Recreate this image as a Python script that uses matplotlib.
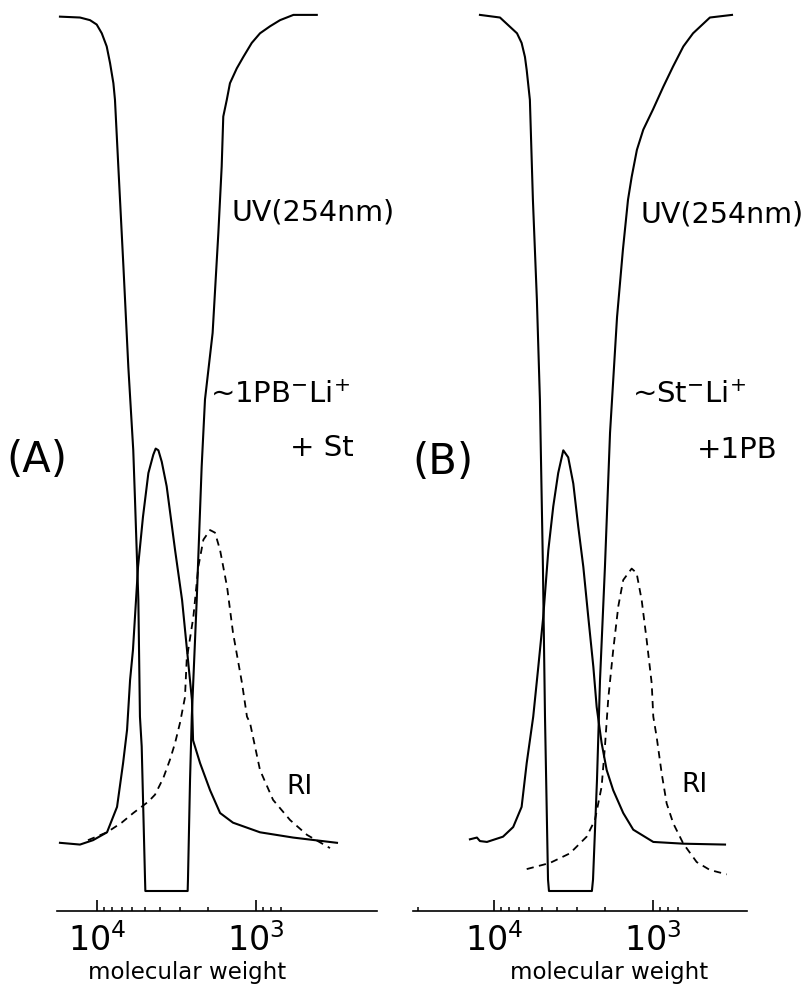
import numpy as np
import matplotlib
matplotlib.use("Agg")
import matplotlib.pyplot as plt
from matplotlib.ticker import FixedLocator, NullFormatter, LogFormatterSciNotation

plt.rcParams['font.family'] = ['DejaVu Sans']
plt.rcParams['mathtext.fontset'] = 'dejavusans'

# ---- data: log10(molecular weight) vs detector signal (0 = off-scale floor, 100 = top) ----
# Panel A: ~1PB-Li+ + St
uv_a_logm = [4.233, 4.107, 4.044, 4.002, 3.970, 3.939, 3.918, 3.897, 3.887, 3.866,
             3.834, 3.803, 3.772, 3.761, 3.740, 3.730, 3.719, 3.698, 3.696, 3.430,
             3.428, 3.415, 3.404, 3.373, 3.342, 3.321, 3.273, 3.237, 3.216, 3.206,
             3.184, 3.164, 3.121, 3.080, 3.027, 2.975, 2.912, 2.849, 2.765, 2.618]
uv_a_sig = [99.8, 99.7, 99.4, 98.9, 97.9, 96.4, 94.5, 92.2, 90.3, 82.7,
            71.3, 59.8, 50.3, 44.6, 33.2, 19.9, 16.5, 1.3, 0.0, 0.0,
            1.3, 12.7, 19.9, 33.2, 48.4, 56.1, 63.7, 75.1, 82.7, 88.4,
            90.3, 92.2, 93.9, 95.2, 96.8, 97.9, 98.7, 99.4, 100.0, 100.0]

peak_a_logm = [4.233, 4.107, 4.025, 3.937, 3.874, 3.836, 3.811, 3.792, 3.774, 3.742,
               3.711, 3.677, 3.646, 3.631, 3.614, 3.593, 3.562, 3.509, 3.465, 3.434,
               3.403, 3.396, 3.352, 3.289, 3.226, 3.145, 2.975, 2.767, 2.491]
peak_a_sig = [5.5, 5.3, 5.8, 6.7, 9.6, 14.6, 18.4, 24.1, 27.5, 37.0,
              42.7, 47.7, 49.8, 50.5, 50.3, 49.0, 46.2, 38.9, 33.2, 27.5,
              21.8, 17.2, 14.6, 11.5, 8.9, 7.8, 6.7, 6.1, 5.5]

ri_a_logm = [4.057, 3.937, 3.845, 3.772, 3.677, 3.635, 3.583, 3.541, 3.509, 3.478,
             3.447, 3.436, 3.394, 3.363, 3.331, 3.289, 3.258, 3.226, 3.182, 3.145,
             3.088, 3.057, 3.038, 2.975, 2.893, 2.786, 2.679, 2.535]
ri_a_sig = [5.8, 6.7, 7.8, 8.9, 10.2, 11.0, 12.9, 15.0, 16.9, 19.2,
            22.1, 26.4, 31.3, 37.0, 40.1, 41.2, 40.9, 38.9, 34.7, 29.5,
            23.7, 19.9, 19.2, 13.8, 10.4, 8.1, 6.4, 4.9]

# Panel B: ~St-Li+ + 1PB
uv_b_logm = [4.088, 3.962, 3.855, 3.826, 3.805, 3.794, 3.774, 3.755, 3.730, 3.711,
             3.692, 3.679, 3.660, 3.654, 3.384, 3.377, 3.352, 3.333, 3.302, 3.270,
             3.226, 3.189, 3.157, 3.134, 3.101, 3.061, 3.000, 2.935, 2.874, 2.809,
             2.748, 2.642, 2.503]
uv_b_sig = [100.0, 99.7, 97.9, 96.8, 95.2, 93.7, 90.3, 78.9, 67.5, 56.1,
            37.0, 19.9, 1.3, 0.0, 0.0, 1.3, 12.7, 24.1, 37.0, 52.3,
            65.5, 73.2, 78.9, 81.5, 84.6, 86.9, 89.2, 91.8, 94.1, 96.4,
            97.9, 99.7, 100.0]

peak_b_logm = [4.151, 4.107, 4.088, 4.044, 3.943, 3.879, 3.826, 3.794, 3.753, 3.721,
               3.690, 3.658, 3.627, 3.596, 3.564, 3.533, 3.501, 3.470, 3.438, 3.407,
               3.375, 3.354, 3.323, 3.291, 3.250, 3.187, 3.124, 2.998, 2.809, 2.547]
peak_b_sig = [5.9, 6.1, 5.7, 5.6, 6.2, 7.3, 9.6, 14.6, 19.9, 25.6,
              31.3, 38.9, 43.9, 47.7, 50.3, 49.5, 46.5, 41.6, 37.0, 31.3,
              25.6, 21.0, 16.9, 13.8, 11.5, 8.9, 7.0, 5.6, 5.4, 5.3]

ri_b_logm = [3.794, 3.648, 3.522, 3.417, 3.365, 3.323, 3.302, 3.281, 3.250, 3.218,
             3.187, 3.134, 3.103, 3.071, 3.040, 3.008, 2.998, 2.977, 2.945, 2.914,
             2.872, 2.809, 2.725, 2.642, 2.536]
ri_b_sig = [2.5, 3.2, 4.3, 6.2, 8.1, 11.9, 16.5, 22.0, 27.5, 32.5,
            35.5, 36.8, 36.3, 33.2, 28.7, 23.7, 19.9, 17.6, 13.4, 10.0,
            7.7, 5.4, 3.3, 2.4, 1.9]

# axis tick positions (molecular weight)
major_ticks = [1e4, 1e3]
minor_ticks_a = [9000, 8000, 7000, 6000, 5000, 4000, 3000, 2000, 900, 800, 700]
minor_ticks_b = [30000] + minor_ticks_a


def draw_panel(ax, uv, peak, ri, xlim, axis_span, minor_ticks, label_x):
    ax.plot(10 ** np.array(uv[0]), uv[1], color='black', lw=1.5, solid_joinstyle='round')
    ax.plot(10 ** np.array(peak[0]), peak[1], color='black', lw=1.5, solid_joinstyle='round')
    ax.plot(10 ** np.array(ri[0]), ri[1], color='black', lw=1.3, linestyle=(0, (4, 3)))

    ax.set_xscale('log')
    ax.set_xlim(10 ** xlim[0], 10 ** xlim[1])
    ax.set_ylim(-11.3, 101.7)
    ax.set_facecolor('none')

    for side in ['top', 'left', 'right']:
        ax.spines[side].set_visible(False)
    ax.spines['bottom'].set_position(('data', -2.3))
    ax.spines['bottom'].set_bounds(10 ** axis_span[0], 10 ** axis_span[1])
    ax.spines['bottom'].set_linewidth(1.2)

    ax.xaxis.set_major_locator(FixedLocator(major_ticks))
    ax.xaxis.set_major_formatter(LogFormatterSciNotation())
    ax.xaxis.set_minor_locator(FixedLocator(minor_ticks))
    ax.xaxis.set_minor_formatter(NullFormatter())
    ax.tick_params(axis='x', which='major', direction='in', length=8, width=1.2,
                   labelsize=24, pad=9)
    ax.tick_params(axis='x', which='minor', direction='in', length=3, width=1.1)
    ax.set_yticks([])

    ax.set_xlabel("molecular weight", fontsize=16.5)
    ax.xaxis.set_label_coords(label_x, 0.029)
    ax.xaxis.label.set_va('top')


fig = plt.figure(figsize=(8.12, 9.9), dpi=100)
ax_a = fig.add_axes([0.0, 0.0, 0.5, 1.0])
ax_b = fig.add_axes([0.5, 0.0, 0.5, 1.0])

draw_panel(ax_a, (uv_a_logm, uv_a_sig), (peak_a_logm, peak_a_sig), (ri_a_logm, ri_a_sig),
           (4.610, 2.057), (4.252, 2.239), minor_ticks_a, 0.46)
draw_panel(ax_b, (uv_b_logm, uv_b_sig), (peak_b_logm, peak_b_sig), (ri_b_logm, ri_b_sig),
           (4.553, 2.000), (4.509, 2.409), minor_ticks_b, 0.5)

W, H = 812.0, 990.0
def put(x, y, s, size):
    fig.text(x / W, 1 - y / H, s, fontsize=size, ha='left', va='center')

put(232, 213, "UV(254nm)", 20.5)
put(641, 215, "UV(254nm)", 20.5)
put(210, 395, r"~1PB$^{-}$Li$^{+}$", 21)
put(290, 448, "+ St", 21)
put(632, 395, r"~St$^{-}$Li$^{+}$", 21)
put(697, 450, "+1PB", 21)
put(6, 460, "(A)", 30)
put(412, 462, "(B)", 30)
put(286, 787, "RI", 19)
put(681, 785, "RI", 19)

fig.savefig("out.png", dpi=100)
